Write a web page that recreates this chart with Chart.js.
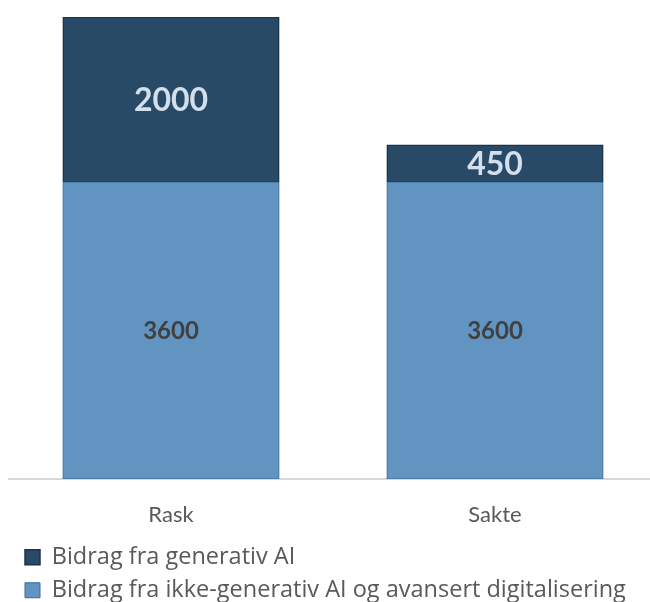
<!DOCTYPE html>
<html>
<head>
<meta charset="utf-8">
<script src="https://cdn.jsdelivr.net/npm/chart.js@4/dist/chart.umd.min.js"></script>
<style>
    html, body { margin: 0; padding: 0; background: #fff; overflow: hidden; width: 650px; height: 602px; }
    #wrap { position: absolute; left: 0; top: 0; }
</style>
</head>
<body>
<div id="wrap"><canvas id="chart" width="658" height="612"></canvas></div>
<script>
const categories = ["Rask", "Sakte"];
const nonGenerativeAI = [3600, 3600];
const generativeAI = [2000, 450];
const seriesNames = ["Bidrag fra ikke-generativ AI og avansert digitalisering", "Bidrag fra generativ AI"];

const FONT = "Lato, 'Open Sans', sans-serif";
const LEGEND_FONT = "'Open Sans', Lato, sans-serif";

// value labels in the middle of each bar segment
const barLabels = {
    id: "barLabels",
    afterDatasetsDraw(chart) {
        const ctx = chart.ctx;
        ctx.save();
        ctx.textAlign = "center";
        ctx.textBaseline = "middle";
        chart.data.datasets.forEach((ds, i) => {
            const meta = chart.getDatasetMeta(i);
            ctx.fillStyle = ds.labelColor;
            ctx.font = "bold " + ds.labelSize + "px " + FONT;
            meta.data.forEach((bar, j) => {
                ctx.fillText(ds.data[j], bar.x, (bar.y + bar.base) / 2 + 1);
            });
        });
        ctx.restore();
    }
};

// nudge legend a bit to the right (Office-style indent)
const legendShift = {
    id: "legendShift",
    afterLayout(chart) {
        chart.legend.left += 6.5;
    }
};

new Chart(document.getElementById("chart").getContext("2d"), {
    type: "bar",
    data: {
        labels: categories,
        datasets: [
            {
                label: seriesNames[0],
                data: nonGenerativeAI,
                backgroundColor: "#6194C0",
                borderColor: "#3D6B93",
                borderWidth: 1,
                borderSkipped: false,
                inflateAmount: 0.5,
                labelColor: "#404040",
                labelSize: 24
            },
            {
                label: seriesNames[1],
                data: generativeAI,
                backgroundColor: "#284A67",
                borderColor: "#1C3348",
                borderWidth: 1.5,
                borderSkipped: false,
                inflateAmount: 0.5,
                labelColor: "#D3E0EC",
                labelSize: 32
            }
        ]
    },
    options: {
        responsive: false,
        animation: false,
        layout: { padding: { left: 9, right: 1, top: 17, bottom: 0 } },
        datasets: { bar: { categoryPercentage: 1, barPercentage: 0.667 } },
        scales: {
            x: {
                stacked: true,
                grid: { display: false, drawTicks: false },
                border: { display: true, color: "#D9D9D9", width: 2 },
                ticks: { color: "#595959", font: { family: FONT, size: 22 }, padding: 23 },
                afterFit(scale) { scale.height = 57; }
            },
            y: {
                stacked: true,
                display: false,
                min: 0,
                max: 5600
            }
        },
        plugins: {
            legend: {
                position: "bottom",
                align: "start",
                reverse: true,
                labels: {
                    color: "#595959",
                    font: { family: LEGEND_FONT, size: 23.5 },
                    boxWidth: 15,
                    boxHeight: 15,
                    padding: 9.5
                }
            },
            tooltip: { enabled: false }
        }
    },
    plugins: [barLabels, legendShift]
});
</script>
</body>
</html>
